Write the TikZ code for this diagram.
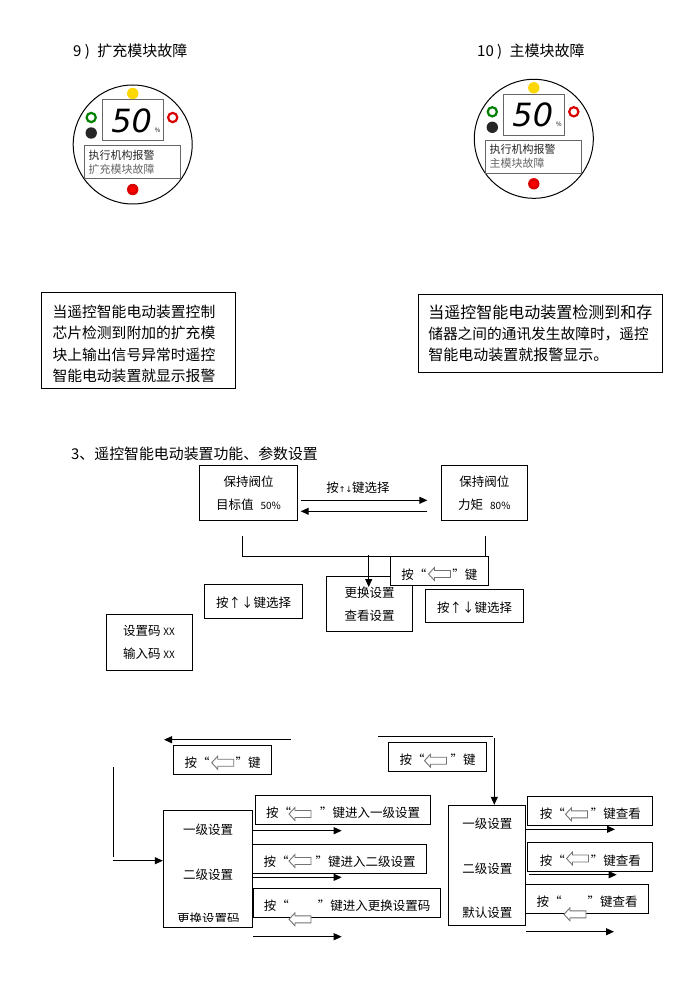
\documentclass[tikz,border=0pt]{standalone}
\usepackage{fontspec}
\setmainfont{Noto Sans CJK SC}
\newfontfamily\dispfont{DejaVu Sans}
\usetikzlibrary{arrows.meta, positioning}

\tikzset{
    box/.style = {draw, line width=1pt, inner sep=0pt, align=center, font=\fontsize{12.5}{23}\selectfont},
    twoline/.style = {box, text depth=-3pt},
    selectbox/.style = {box, text height=15pt, text depth=2pt},
    keybox/.style = {box, text height=18pt, text depth=2pt},
    label/.style = {box, draw=none},
    notebox/.style = {draw, line width=1pt, inner sep=0pt, align=left},
    flow/.style = {line width=1pt},
    arrow/.style = {line width=1pt, -{Triangle[length=8pt,width=7pt]}},
    title/.style = {font=\fontsize{15}{18}\selectfont},
    keyarrow/.pic = {
        \draw[black!55, line width=0.9pt, fill=white] (-11,0) -- (-5,-6.5) -- (-5,-3.5) -- (11,-3.5) -- (11,3.5) -- (-5,3.5) -- (-5,6.5) -- cycle;
    }
}
\newcommand{\smallpct}[1]{{\fontsize{10}{10}\selectfont #1}}
\newcommand{\narrowarrows}{{\dispfont\fontsize{8}{8}\selectfont ↑↓}}

% one front panel: centre x, centre y, name, second line
\newcommand{\panel}[4]{
    \begin{scope}[shift={(#1,#2)}]
        \draw[line width=1pt] (0,0) circle (59.5);
        \node[draw=black!60, line width=1pt, minimum width=61, minimum height=41] (#3disp) at (0,-24) {};
        \node[font=\dispfont\fontsize{32}{32}\selectfont\itshape] (#3val) at (-1,-24) {50};
        \node[font=\itshape\fontsize{6}{6}\selectfont] (#3pct) at (25,-14) {\%};
        \fill[yellow!75!orange] (0,-51) circle (5.7);
        \draw[green!50!black, line width=2.2pt] (-41.5,-27) circle (4.6);
        \fill[black!85] (-41.5,-11.5) circle (5.7);
        \draw[red!85!black, line width=2.2pt] (40,-27) circle (4.6);
        \node[draw=black!60, line width=1pt, minimum width=96, minimum height=33] (#3info) at (0,18) {};
        \node[font=\fontsize{11}{14}\selectfont, align=left, anchor=west, inner sep=0pt, text=black!85] (#3msg) at (-44.4,17.5) {执行机构报警\\\textcolor{black!60}{#4}};
        \fill[red!85!black] (0,45) circle (5.7);
        \fill[red] (0,45) circle (3);
    \end{scope}
}

\begin{document}
\begin{tikzpicture}[x=1pt, y=-1pt]
    \useasboundingbox (0,0) rectangle (700,1000);

    % fault pages
    \node[title, anchor=west, inner sep=0pt] (titlenine) at (73,51.5) {9 )\hspace{4pt} 扩充模块故障};
    \node[title, anchor=west, inner sep=0pt] (titleten) at (477,51.5) {10 )\hspace{4pt} 主模块故障};
    \panel{132.7}{144.5}{nine}{扩充模块故障}
    \panel{533.8}{138.8}{ten}{主模块故障}

    \node[notebox, minimum width=194, minimum height=96] (notenine) at (138,340.5) {};
    \begin{scope}
        \clip (42,294) rectangle (234,381.5);
        \node[notebox, draw=none, anchor=west, font=\fontsize{14.8}{21.3}\selectfont] (notenineText) at (52,344) {当遥控智能电动装置控制\\芯片检测到附加的扩充模\\块上输出信号异常时遥控\\智能电动装置就显示报警};
    \end{scope}
    \node[notebox, minimum width=244, minimum height=78.3, font=\fontsize{15}{20.7}\selectfont] (noteten) at (540.3,333.2) {\fontsize{16}{20.7}\selectfont 当遥控智能电动装置检测到和存\\\fontsize{14.7}{20.7}\selectfont 储器之间的通讯发生故障时，遥控\\\fontsize{15}{20.7}\selectfont 智能电动装置就报警显示。};

    % parameter settings
    \node[title, anchor=west, inner sep=0pt, font=\fontsize{14.9}{18}\selectfont] (titlesetup) at (71,454) {3、遥控智能电动装置功能、参数设置};

    \node[twoline, minimum width=98.4, minimum height=54.6] (target) at (248.5,493) {保持阀位\\目标值\hspace{7pt}\smallpct{50\%}};
    \node[twoline, minimum width=86, minimum height=54.6] (torque) at (484.3,493) {保持阀位\\力矩\hspace{7pt}\smallpct{80\%}};
    \node[font=\fontsize{12.5}{14}\selectfont] (selecttop) at (358,488) {按\narrowarrows 键选择};
    \coordinate (targetout) at (300.7,500.3);
    \coordinate (torquein) at (427.3,500.3);
    \coordinate (torqueout) at (427.3,511.3);
    \coordinate (targetin) at (300.7,511.3);
    \draw[arrow] (targetout) -- (torquein);
    \draw[arrow] (torqueout) -- (targetin);

    \coordinate (busleft) at (242.3,536);
    \coordinate (busright) at (485.7,536);
    \coordinate (busleftend) at (242.3,556.5);
    \coordinate (busrightend) at (485.7,556.5);
    \coordinate (busdrop) at (368.7,555);
    \coordinate (changein) at (368.7,587);
    \draw[flow] (busleft) -- (busleftend) -- (busrightend) -- (busright);

    \node[twoline, minimum width=86, minimum height=55] (change) at (369.7,603.8) {更换设置\\查看设置};
    \draw[arrow] (busdrop) -- (changein);
    \node[keybox, fill=white, minimum width=98, minimum height=29.4] (keytop) at (439.3,571) {按“\hspace{26pt}”键};
    \pic at (439.5,574) {keyarrow};
    \node[selectbox, minimum width=98.4, minimum height=34] (selectleft) at (253.5,601.3) {按↑↓键选择};
    \node[selectbox, minimum width=98.4, minimum height=33] (selectright) at (474.5,605.8) {按↑↓键选择};
    \node[twoline, minimum width=86, minimum height=56] (code) at (149,642) {设置码 \smallpct{XX}\\输入码 \smallpct{XX}};

    % left branch
    \coordinate (backstart) at (290.7,739.7);
    \coordinate (backend) at (164,739.7);
    \draw[arrow] (backstart) -- (backend);
    \node[keybox, minimum width=98.4, minimum height=29] (keyleft) at (222.5,759.8) {按“\hspace{26pt}”键};
    \pic at (222.7,762.7) {keyarrow};
    \coordinate (feedtop) at (113.3,767);
    \coordinate (feedend) at (113.3,857);
    \coordinate (feedstart) at (112.7,860.7);
    \draw[flow] (feedtop) -- (feedend);

    \node[box, minimum width=89.4, minimum height=117] (levels) at (208,868.8) {};
    \draw[arrow] (feedstart) -- (levels.west |- feedstart);
    \node[label] (levelone) at (208,830) {一级设置};
    \node[label] (leveltwo) at (208,875) {二级设置};
    \begin{scope}
        \clip (164,905) rectangle (252,921.7);
        \node[label] (levelcode) at (208.3,919) {更换设置码};
    \end{scope}

    \node[keybox, minimum width=175.4, minimum height=29] (enterone) at (343,809.8) {按“\hspace{29pt}”键进入一级设置};
    \pic at (300,814) {keyarrow};
    \node[keybox, minimum width=174, minimum height=29] (entertwo) at (339.7,858.8) {按“\hspace{27pt}”键进入二级设置};
    \pic at (300,861) {keyarrow};
    \node[keybox, minimum width=187.4, minimum height=29] (entercode) at (347,902.8) {按“\hspace{29pt}”键进入更换设置码};
    \pic at (300,919.3) {keyarrow};
    \coordinate (oneend) at (341.7,830.7);
    \coordinate (twoend) at (341.7,877.3);
    \coordinate (codestart) at (253.3,936.7);
    \coordinate (codeend) at (341.7,936.7);
    \draw[arrow] (levels.east |- oneend) -- (oneend);
    \draw[arrow] (levels.east |- twoend) -- (twoend);
    \draw[arrow] (codestart) -- (codeend);

    % right branch
    \coordinate (rightstart) at (378.3,736.7);
    \coordinate (rightcorner) at (492.7,736.7);
    \coordinate (dropstart) at (494.3,738.3);
    \draw[flow] (rightstart) -- (rightcorner);
    \node[keybox, minimum width=98.4, minimum height=29] (keyright) at (437.5,756.8) {按“\hspace{26pt}”键};
    \pic at (435.5,760.7) {keyarrow};

    \node[box, minimum width=77.4, minimum height=120] (view) at (487,865.3) {};
    \draw[arrow] (dropstart) -- (view.north -| dropstart);
    \node[label] (viewone) at (487.3,823.3) {一级设置};
    \node[label] (viewtwo) at (487.3,868.3) {二级设置};
    \node[label] (viewdef) at (487.3,912.7) {默认设置};

    \node[keybox, minimum width=124.7, minimum height=29] (lookone) at (590.3,810.8) {按“\hspace{26pt}”键查看};
    \pic at (576.5,814.3) {keyarrow};
    \node[keybox, minimum width=124.7, minimum height=29.4] (looktwo) at (590.3,857) {按“\hspace{26pt}”键查看};
    \pic at (577.5,858.5) {keyarrow};
    \node[keybox, minimum width=122.6, minimum height=29] (lookdef) at (587,898.8) {按“\hspace{26pt}”键查看};
    \pic at (575,914.3) {keyarrow};
    \coordinate (viewoneend) at (615,829.3);
    \coordinate (viewtwostart) at (528.7,874.7);
    \coordinate (viewtwoend) at (616.7,874.7);
    \coordinate (viewdefend) at (614,931.7);
    \draw[arrow] (view.east |- viewoneend) -- (viewoneend);
    \draw[arrow] (viewtwostart) -- (viewtwoend);
    \draw[arrow] (view.east |- viewdefend) -- (viewdefend);
\end{tikzpicture}
\end{document}
